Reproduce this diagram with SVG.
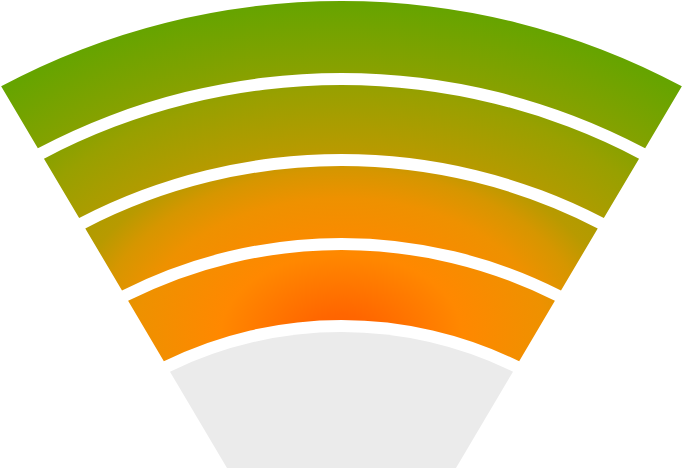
<svg xmlns="http://www.w3.org/2000/svg" width="683" height="468" viewBox="0 0 683 468">
  <defs>
    <radialGradient id="fanGrad" gradientUnits="userSpaceOnUse" cx="341.5" cy="335" r="350" gradientTransform="translate(341.5 335) scale(1.5 1) translate(-341.5 -335)">
      <stop offset="0" stop-color="#ff6000"/>
      <stop offset="0.06" stop-color="#ff6600"/>
      <stop offset="0.23" stop-color="#ff8800"/>
      <stop offset="0.39" stop-color="#ee9100"/>
      <stop offset="0.47" stop-color="#d69600"/>
      <stop offset="0.53" stop-color="#b89a00"/>
      <stop offset="0.70" stop-color="#98a000"/>
      <stop offset="0.76" stop-color="#88a100"/>
      <stop offset="0.95" stop-color="#66a400"/>
      <stop offset="1" stop-color="#5ea800"/>
    </radialGradient>
  </defs>
  <style>
    .band { fill: url(#fanGrad); stroke: none; }
    .base { fill: #ebebeb; stroke: none; }
  </style>
  <rect width="683" height="468" fill="#ffffff"/>
  <g id="band1">
    <path class="band" d="M1.15,86.26 A722,722 0 0 1 681.85,86.26 L645.15,148.3 A650,650 0 0 0 37.85,148.3 Z"/>
  </g>
  <g id="band2">
    <path class="band" d="M43.97,158.63 A638,638 0 0 1 639.03,158.63 L603.85,218.09 A569,569 0 0 0 79.15,218.09 Z"/>
  </g>
  <g id="band3">
    <path class="band" d="M85.27,228.44 A557,557 0 0 1 597.73,228.44 L561,290.52 A485,485 0 0 0 122,290.52 Z"/>
  </g>
  <g id="band4">
    <path class="band" d="M128.1,300.87 A473,473 0 0 1 554.9,300.87 L519.15,361.27 A403,403 0 0 0 163.85,361.27 Z"/>
  </g>
  <g id="base">
    <path class="base" d="M169.98,371.63 A391,391 0 0 1 513.02,371.63 L454.83,470 L228.17,470 Z"/>
  </g>
  <g id="connectors"/>
</svg>
